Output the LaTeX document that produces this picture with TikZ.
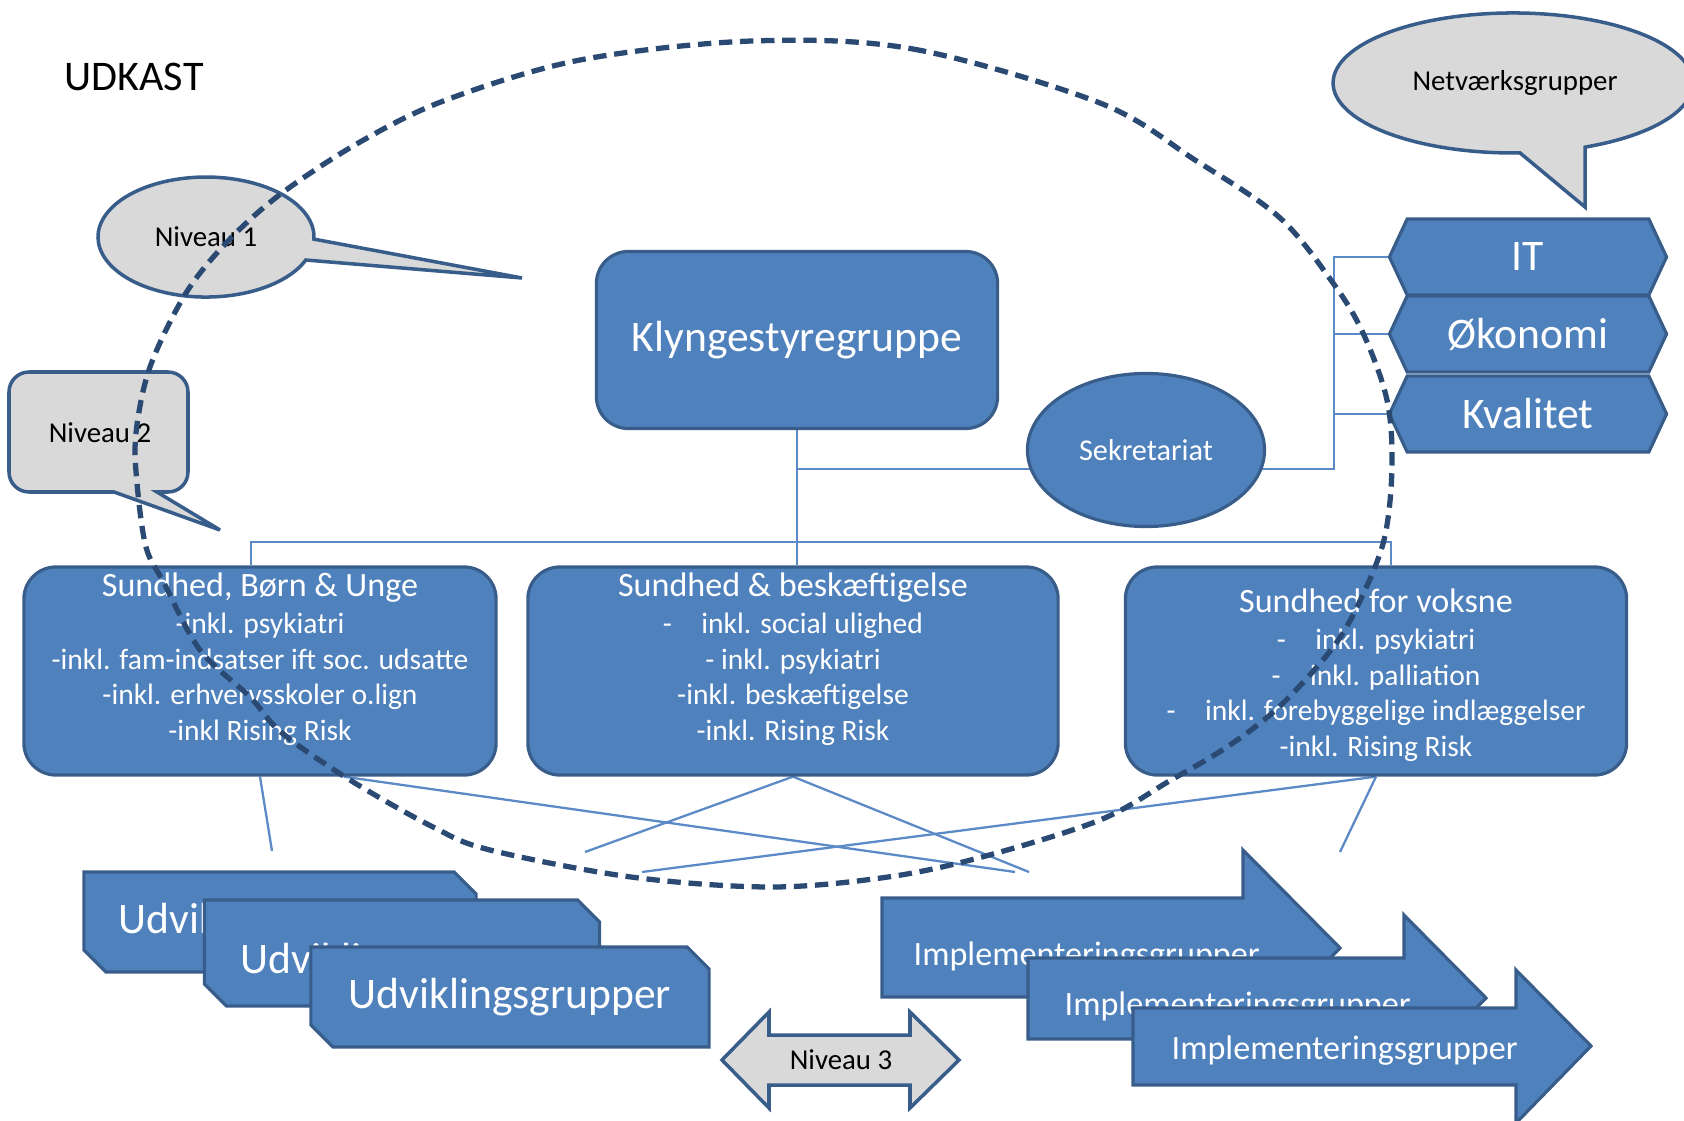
\documentclass[tikz,border=0pt]{standalone}
\usepackage{fontspec}
\setmainfont{Carlito}
\usetikzlibrary{shapes.geometric,shapes.misc,shapes.symbols,calc}

\definecolor{boxfill}{HTML}{4F81BD}
\definecolor{boxline}{HTML}{385D8A}
\definecolor{callfill}{HTML}{D9D9D9}
\definecolor{linkcol}{HTML}{5B8AC6}
\definecolor{dashcol}{HTML}{2A4A73}

\newcommand{\grptitle}{\fontsize{9.7}{11}\selectfont}

\pgfdeclarelayer{background}
\pgfsetlayers{background,main}

\begin{document}
\begin{tikzpicture}[
    x=0.01cm, y=-0.01cm, % one unit per pixel, y grows downwards
    bluebox/.style={
        draw=boxline, line width=0.9pt, fill=boxfill, text=white,
        rounded corners=0.32cm, align=center
    },
    grptext/.style={text=white, align=center, font=\fontsize{8.4}{10.1}\selectfont},
    hexbox/.style={
        signal, signal to=west and east, signal pointer angle=130,
        draw=boxline, line width=0.9pt, fill=boxfill, text=white,
        minimum width=2.77cm, minimum height=0.76cm,
        font=\fontsize{12.4}{14}\selectfont
    },
    snipbox/.style={
        chamfered rectangle, chamfered rectangle corners={north east,south west},
        chamfered rectangle sep=0.11cm,
        draw=boxline, line width=0.9pt, fill=boxfill, text=white,
        font=\fontsize{12.4}{14}\selectfont
    },
    callout/.style={draw=boxline, line width=1pt, fill=callfill},
    calltext/.style={text=black, font=\fontsize{8.2}{10}\selectfont},
    bigarrow/.style={draw=boxline, line width=0.9pt, fill=boxfill},
    arrowtext/.style={text=white, inner sep=0pt, anchor=base west, font=\fontsize{9.7}{11}\selectfont},
    link/.style={draw=linkcol, line width=0.65pt},
    border/.style={draw=dashcol, line width=1.5pt, dash pattern=on 3.8pt off 2.2pt}
]
\clip (0,0) rectangle (1684,1121);

\node[font=\fontsize{12}{14}\selectfont] (udkast) at (134,77) {UDKAST};

% styregruppe, sekretariat and support functions
\node[bluebox, minimum width=4.01cm, minimum height=1.77cm,
      font=\fontsize{12.4}{14}\selectfont] (klynge) at (797,340) {Klyngestyregruppe};
\node[ellipse, draw=boxline, line width=0.9pt, fill=boxfill, text=white,
      minimum width=2.37cm, minimum height=1.53cm,
      font=\fontsize{8.6}{10}\selectfont] (sek) at (1146,450) {Sekretariat};
\node[hexbox] (it) at (1528,257) {IT};
\node[hexbox] (okonomi) at (1528,334) {Økonomi};
\node[hexbox] (kvalitet) at (1528,414) {Kvalitet};

% the three areas
\node[bluebox, minimum width=4.72cm, minimum height=2.08cm] (sbu) at (260,671) {};
\node[bluebox, minimum width=5.30cm, minimum height=2.08cm] (sbe) at (793,671) {};
\node[bluebox, minimum width=5.01cm, minimum height=2.08cm] (sfv) at (1376,671) {};
\node[grptext] (sbutxt) at ([yshift=0.12cm]sbu.center) {{\grptitle Sundhed, Børn \& Unge}\\[0.6pt]
    -inkl. psykiatri\\ -inkl. fam-indsatser ift soc. udsatte\\
    -inkl. erhvervsskoler o.lign\\ -inkl Rising Risk};
\node[grptext] (sbetxt) at ([yshift=0.12cm]sbe.center) {{\grptitle Sundhed \& beskæftigelse}\\[0.6pt]
    -\quad inkl. social ulighed\\ - inkl. psykiatri\\
    -inkl. beskæftigelse\\ -inkl. Rising Risk};
\node[grptext] (sfvtxt) at ([yshift=-0.04cm]sfv.center) {{\grptitle Sundhed for voksne}\\[0.6pt]
    -\quad inkl. psykiatri\\ -\quad inkl. palliation\\
    -\quad inkl. forebyggelige indlæggelser\\ -inkl. Rising Risk};

% udviklingsgrupper
\node[snipbox, minimum width=3.92cm, minimum height=1.00cm] (udv1) at (280,922) {Udviklingsgrupper};
\node[snipbox, minimum width=3.95cm, minimum height=1.06cm, text height=14pt] (udv2) at (402,953) {Udviklingsgrupper};
\node[snipbox, minimum width=3.98cm, minimum height=1.00cm] (udv3) at (510,997) {Udviklingsgrupper};

% implementeringsgrupper
\draw[bigarrow] (882,898) -- (1243,898) -- (1243,850) -- (1340,948) -- (1243,1046) -- (1243,997) -- (882,997) -- cycle;
\node[arrowtext] (impA) at (913,965) {Implementeringsgrupper};
\draw[bigarrow] (1028,958) -- (1404,958) -- (1404,915) -- (1486,998) -- (1404,1081) -- (1404,1039) -- (1028,1039) -- cycle;
\node[arrowtext] (impB) at (1064,1015) {Implementeringsgrupper};
\draw[bigarrow] (1133,1008) -- (1516,1008) -- (1516,970) -- (1591,1046) -- (1516,1123) -- (1516,1085) -- (1133,1085) -- cycle;
\node[arrowtext] (impC) at (1171,1059) {Implementeringsgrupper};

% callouts
\draw[callout] (305.8,260) arc[start angle=22.5, end angle=362, x radius=108, y radius=60]
    -- (522,278) -- cycle;
\node[calltext] (niv1) at (206,237) {Niveau 1};
\draw[callout] (114,492) -- (29,492) arc[start angle=90, end angle=180, radius=20]
    -- (9,392) arc[start angle=180, end angle=270, radius=20]
    -- (168,372) arc[start angle=270, end angle=360, radius=20]
    -- (188,472) arc[start angle=0, end angle=90, radius=20]
    -- (157,492) -- (220,530) -- cycle;
\node[calltext] (niv2) at (100,433) {Niveau 2};
\draw[callout] (1520,152.9) arc[start angle=87.8, end angle=426.4, x radius=180, y radius=70]
    -- (1585,207) -- cycle;
\node[calltext] (netv) at (1515,83) {Netværksgrupper};
\draw[callout] (722,1060) -- (769,1012) -- (769,1035) -- (910,1035) -- (910,1012) -- (959,1060)
    -- (910,1108) -- (910,1085) -- (769,1085) -- (769,1108) -- cycle;
\node[calltext] (niv3) at (841,1060) {Niveau 3};

% connectors
\begin{pgfonlayer}{background}
\coordinate (busL) at (251,542);
\coordinate (busR) at (1391,542);
\coordinate (sekL) at (klynge.south |- 0,469);
\coordinate (brk) at (1334,469);
\draw[link] (klynge.south) -- (klynge.south |- sbe.north);
\draw[link] (busL |- sbu.north) -- (busL) -- (busR) -- (busR |- sfv.north);
\draw[link] (sekL) -- (brk) -- (brk |- it.west) -- (it.west);
\draw[link] (brk |- okonomi.west) -- (okonomi.west);
\draw[link] (brk |- kvalitet.west) -- (kvalitet.west);
\coordinate (sbuR) at ($(sbu.south west)!0.676!(sbu.south east)$);
\coordinate (e1) at (272,851);
\coordinate (e2) at (1015,872);
\coordinate (e3) at (585,852);
\coordinate (e4) at (1029,872);
\coordinate (e5) at (642,872);
\coordinate (e6) at (1340,852);
\draw[link] (sbu.south) -- (e1);
\draw[link] (sbuR) -- (e2);
\draw[link] (sbe.south) -- (e3);
\draw[link] (sbe.south) -- (e4);
\draw[link] (sfv.south) -- (e5);
\draw[link] (sfv.south) -- (e6);
\end{pgfonlayer}

% dashed boundary
\draw[border] plot[smooth cycle, tension=0.55] coordinates {
    (752,41) (913,49) (1100,103) (1195,160) (1279,217) (1333,283) (1363,333)
    (1387,400) (1392,467) (1384,540) (1358,605) (1331,650) (1279,707) (1227,747)
    (1171,780) (1100,820) (982,857) (888,877) (771,887) (631,877) (490,850)
    (433,827) (350,780) (282,733) (250,697) (200,650) (164,583) (146,547)
    (137,483) (136,433) (150,367) (186,293) (229,240) (282,193) (360,142)
    (446,100) (580,60)};
\end{tikzpicture}
\end{document}
